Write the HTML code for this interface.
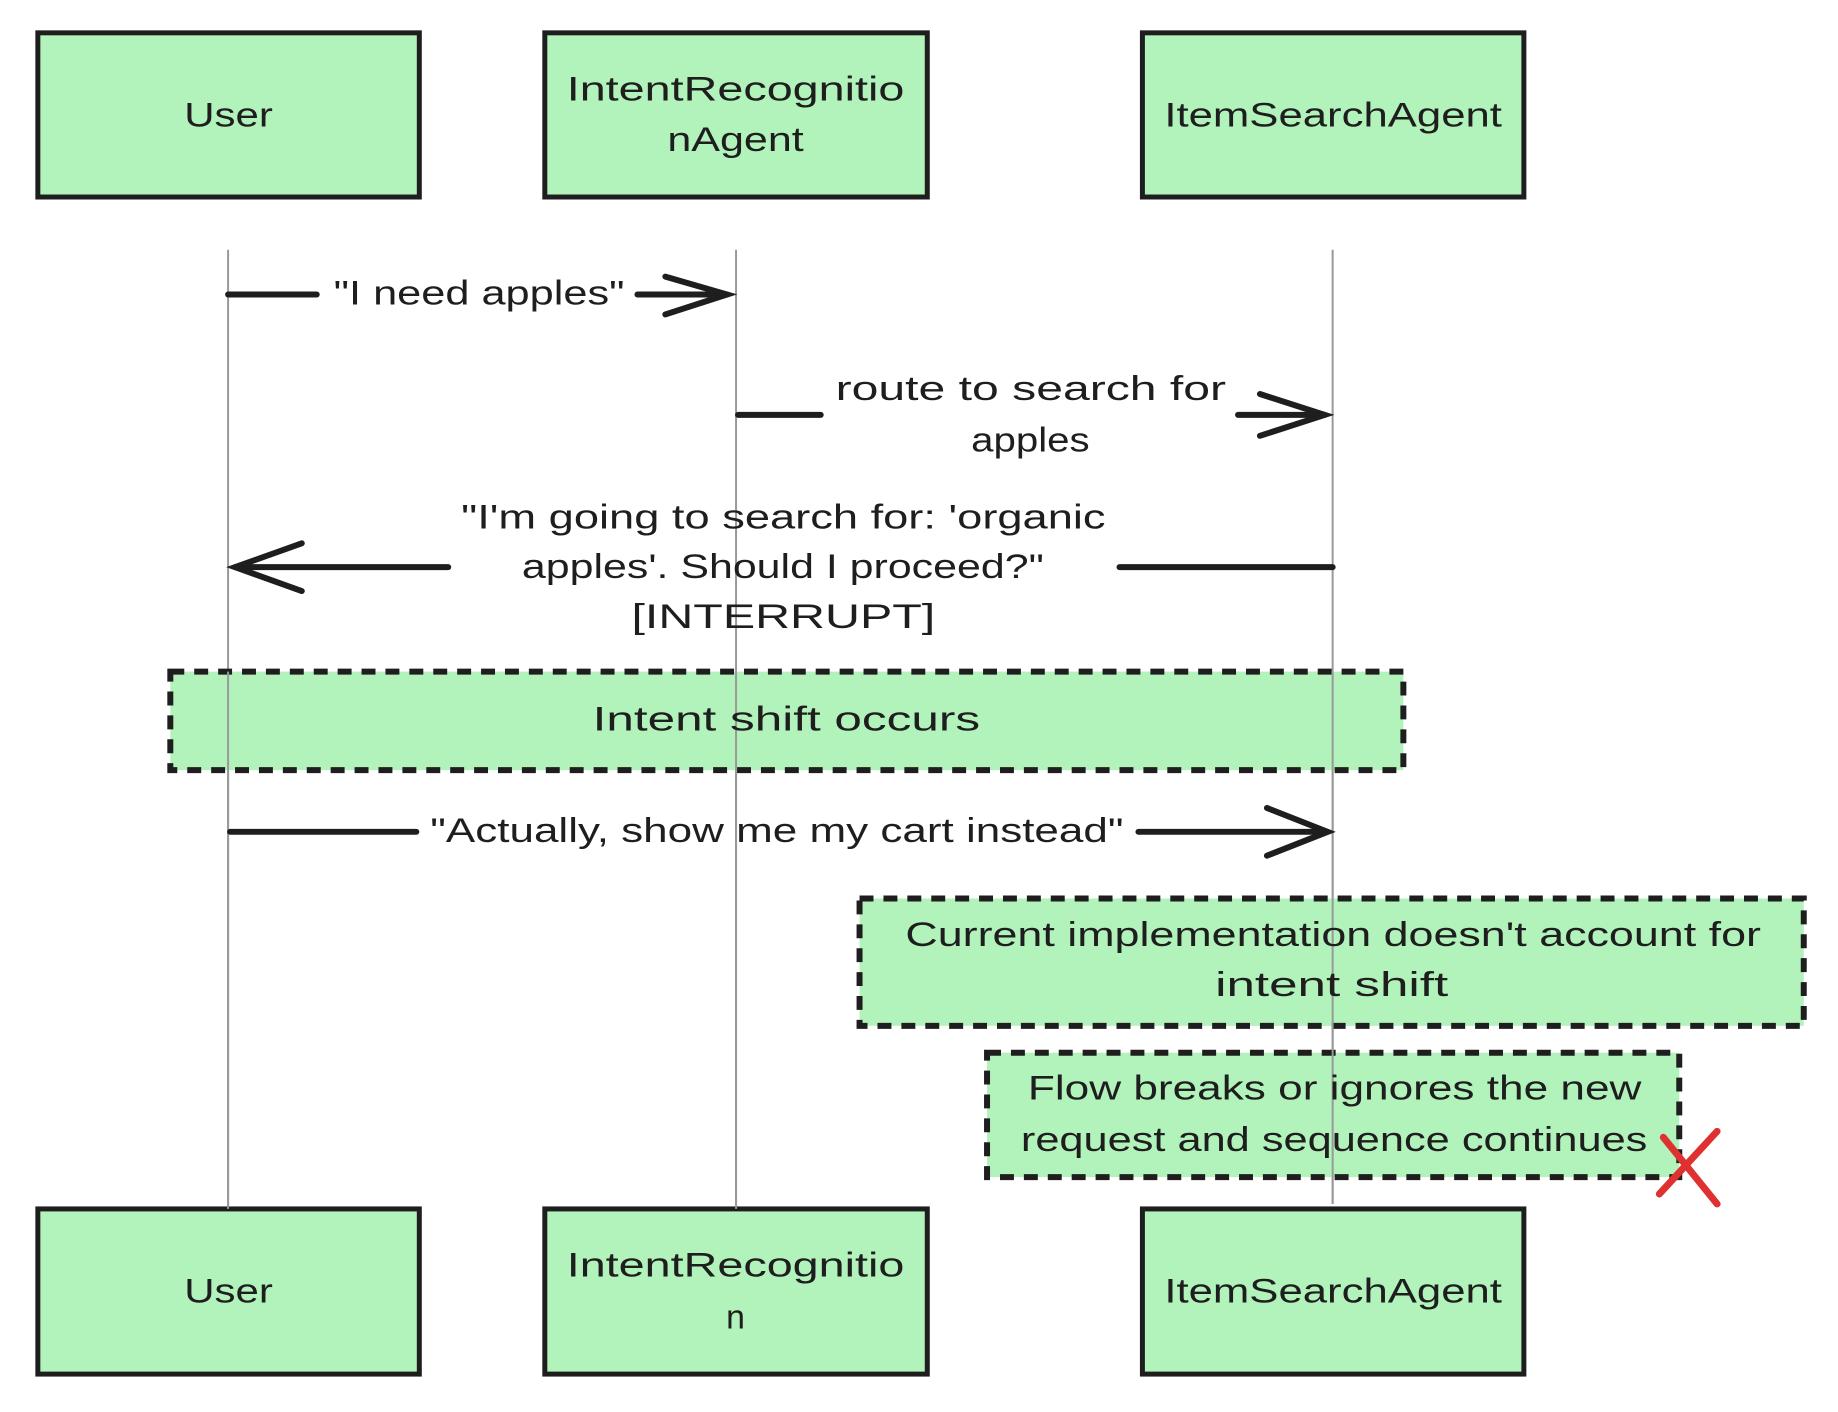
<!DOCTYPE html>
<html><head><style>body{margin:0;background:#fff}svg{display:block}</style></head><body>
<svg width="1838" height="1412" viewBox="0 0 1838 1412" xmlns="http://www.w3.org/2000/svg" font-family="'Liberation Sans', sans-serif" font-size="34" fill="#1e1e1e">
<rect width="1838" height="1412" fill="#fff"/>
<g transform="scale(0.996 0.995)">
<g stroke="#999" stroke-width="2">
<line x1="229" y1="251" x2="229" y2="1215"/>
<line x1="739" y1="251" x2="739" y2="1215"/>
<line x1="1338" y1="251" x2="1338" y2="1210"/>
</g>
<g fill="#b2f2bb" stroke="#1e1e1e" stroke-width="5">
<rect x="38" y="33" width="383" height="165"/>
<rect x="547" y="33" width="384" height="165"/>
<rect x="1147" y="33" width="383" height="165"/>
<rect x="38" y="1215" width="383" height="166"/>
<rect x="547" y="1215" width="384" height="166"/>
<rect x="1147" y="1215" width="383" height="166"/>
</g>
<g fill="#b2f2bb" stroke="#1e1e1e" stroke-width="6" stroke-dasharray="14 10">
<rect x="171" y="675" width="1238" height="99"/>
<rect x="863" y="903" width="948" height="128"/>
<rect x="991" y="1058" width="695" height="125"/>
</g>
<g stroke="#999" stroke-width="2">
<line x1="229" y1="675" x2="229" y2="1215"/>
<line x1="739" y1="675" x2="739" y2="1215"/>
<line x1="1338" y1="675" x2="1338" y2="1210"/>
</g>
<g stroke="#1e1e1e" stroke-width="6" fill="none" stroke-linecap="round">
<line x1="229" y1="296" x2="318" y2="296"/><line x1="640" y1="296" x2="730" y2="296"/>
<polyline points="668,278 730,296 668,316"/>
<line x1="741" y1="417" x2="824" y2="417"/><line x1="1243" y1="417" x2="1330" y2="417"/>
<polyline points="1265,396 1330,417 1265,438"/>
<line x1="236" y1="570" x2="450" y2="570"/><line x1="1124" y1="570" x2="1338" y2="570"/>
<polyline points="303,546 236,570 303,594"/>
<line x1="231" y1="836" x2="418" y2="836"/><line x1="1143" y1="836" x2="1333" y2="836"/>
<polyline points="1272,812 1333,836 1272,860"/>
</g>
<g stroke="#e03131" stroke-width="7" stroke-linecap="round">
<line x1="1670" y1="1143" x2="1724" y2="1210"/><line x1="1724" y1="1137" x2="1666" y2="1200"/>
</g>
<g text-anchor="start">
<text x="185" y="127" textLength="89" lengthAdjust="spacingAndGlyphs">User</text>
<text x="569" y="101" textLength="339" lengthAdjust="spacingAndGlyphs">IntentRecognitio</text>
<text x="670" y="152" textLength="137" lengthAdjust="spacingAndGlyphs">nAgent</text>
<text x="1169" y="127" textLength="339" lengthAdjust="spacingAndGlyphs">ItemSearchAgent</text>
<text x="185" y="1309" textLength="89" lengthAdjust="spacingAndGlyphs">User</text>
<text x="569" y="1283" textLength="339" lengthAdjust="spacingAndGlyphs">IntentRecognitio</text>
<text x="729" y="1335">n</text>
<text x="1169" y="1309" textLength="339" lengthAdjust="spacingAndGlyphs">ItemSearchAgent</text>
<text x="335" y="306" textLength="292" lengthAdjust="spacingAndGlyphs">"I need apples"</text>
<text x="839" y="402" textLength="392" lengthAdjust="spacingAndGlyphs">route to search for</text>
<text x="975" y="454" textLength="119" lengthAdjust="spacingAndGlyphs">apples</text>
<text x="463" y="531" textLength="647" lengthAdjust="spacingAndGlyphs">"I'm going to search for: 'organic</text>
<text x="524" y="581" textLength="524" lengthAdjust="spacingAndGlyphs">apples'. Should I proceed?"</text>
<text x="634" y="631" textLength="305" lengthAdjust="spacingAndGlyphs">[INTERRUPT]</text>
<text x="595" y="734" textLength="389" lengthAdjust="spacingAndGlyphs">Intent shift occurs</text>
<text x="432" y="846" textLength="696" lengthAdjust="spacingAndGlyphs">"Actually, show me my cart instead"</text>
<text x="909" y="951" textLength="859" lengthAdjust="spacingAndGlyphs">Current implementation doesn't account for</text>
<text x="1220" y="1001" textLength="234" lengthAdjust="spacingAndGlyphs">intent shift</text>
<text x="1032" y="1105" textLength="616" lengthAdjust="spacingAndGlyphs">Flow breaks or ignores the new</text>
<text x="1025" y="1157" textLength="629" lengthAdjust="spacingAndGlyphs">request and sequence continues</text>
</g>
</g>
</svg>
</body></html>
